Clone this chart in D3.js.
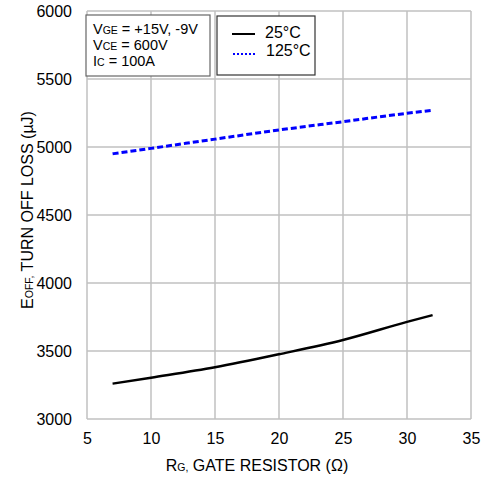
<!DOCTYPE html>
<html><head><meta charset="utf-8">
<script src="https://cdn.jsdelivr.net/npm/d3@7"></script>
<style>body{margin:0;background:#fff;} text{font-family:"Liberation Sans",Arial,sans-serif;}</style>
</head><body>
<svg id="c" width="487" height="480"></svg>
<script>
const rg = [7, 10, 15, 20, 25, 30, 32];
const loss25 = [3260, 3304, 3380, 3476, 3581, 3714, 3764];
const loss125 = [4950, 4990, 5058, 5125, 5186, 5248, 5270];
const xTicks = [5, 10, 15, 20, 25, 30, 35];
const yTicks = [3000, 3500, 4000, 4500, 5000, 5500, 6000];
const seriesNames = ["25°C", "125°C"];

const svg = d3.select("#c");
const m = {l: 87, r: 471, t: 11, b: 419};
const x = d3.scaleLinear().domain([5, 35]).range([m.l, m.r]);
const y = d3.scaleLinear().domain([3000, 6000]).range([m.b, m.t]);
const FF = "Liberation Sans, Arial, sans-serif";

const grid = svg.append("g");
xTicks.forEach(t => grid.append("line").attr("x1", x(t)).attr("x2", x(t)).attr("y1", m.t).attr("y2", m.b)
  .attr("stroke", "#c0c0c0").attr("stroke-width", 1.5));
yTicks.forEach(t => grid.append("line").attr("x1", m.l).attr("x2", m.r).attr("y1", y(t)).attr("y2", y(t))
  .attr("stroke", "#c0c0c0").attr("stroke-width", 1.5));

const xa = svg.append("g").attr("transform", `translate(0,${m.b})`)
  .call(d3.axisBottom(x).tickValues(xTicks).tickFormat(d3.format("d")).tickSize(0).tickPadding(14));
xa.select(".domain").remove();
xa.selectAll("text").attr("font-size", 16).attr("fill", "#000").attr("font-family", FF);
const ya = svg.append("g").attr("transform", `translate(${m.l},0)`)
  .call(d3.axisLeft(y).tickValues(yTicks).tickFormat(d3.format("d")).tickSize(0).tickPadding(15));
ya.select(".domain").remove();
ya.selectAll("text").attr("font-size", 16).attr("fill", "#000").attr("font-family", FF);

const line = d3.line().x((d, i) => x(rg[i])).y(d => y(d)).curve(d3.curveMonotoneX);
svg.append("path").datum(loss25).attr("d", line).attr("fill", "none").attr("stroke", "#000").attr("stroke-width", 2.5);
svg.append("path").datum(loss125).attr("d", line).attr("fill", "none").attr("stroke", "#0000ff")
  .attr("stroke-width", 3).attr("stroke-dasharray", "6,3");

// condition box
svg.append("rect").attr("x", 86).attr("y", 15).attr("width", 124).attr("height", 61)
  .attr("fill", "#fff").attr("stroke", "#666").attr("stroke-width", 1.2);
const cond = [["V", "GE", " = +15V, -9V"], ["V", "CE", " = 600V"], ["I", "C", " = 100A"]];
cond.forEach((c, i) => {
  const t = svg.append("text").attr("x", 93).attr("y", 34 + i * 16).attr("font-size", 14.5).attr("fill", "#000");
  t.append("tspan").text(c[0]);
  t.append("tspan").attr("font-size", 10.5).text(c[1]);
  t.append("tspan").text(c[2]);
});

// legend
svg.append("rect").attr("x", 217).attr("y", 16).attr("width", 98).attr("height", 59)
  .attr("fill", "#fff").attr("stroke", "#333").attr("stroke-width", 1.2);
svg.append("line").attr("x1", 232).attr("x2", 255).attr("y1", 34).attr("y2", 34).attr("stroke", "#000").attr("stroke-width", 2);
svg.append("line").attr("x1", 233).attr("x2", 257).attr("y1", 54).attr("y2", 54).attr("stroke", "#0000ff")
  .attr("stroke-width", 2).attr("stroke-dasharray", "2,2");
svg.append("text").attr("x", 265).attr("y", 38).attr("font-size", 16).text(seriesNames[0]);
svg.append("text").attr("x", 266).attr("y", 56).attr("font-size", 16).text(seriesNames[1]);

// axis titles
const xt = svg.append("text").attr("x", 257).attr("y", 471).attr("text-anchor", "middle").attr("font-size", 16);
xt.append("tspan").text("R");
xt.append("tspan").attr("font-size", 10.5).text("G,");
xt.append("tspan").text(" GATE RESISTOR (Ω)");

const yt = svg.append("text").attr("transform", "translate(33,210) rotate(-90)").attr("text-anchor", "middle").attr("font-size", 16);
yt.append("tspan").text("E");
yt.append("tspan").attr("font-size", 10.5).text("OFF,");
yt.append("tspan").text(" TURN OFF LOSS (µJ)");
</script>
</body></html>
